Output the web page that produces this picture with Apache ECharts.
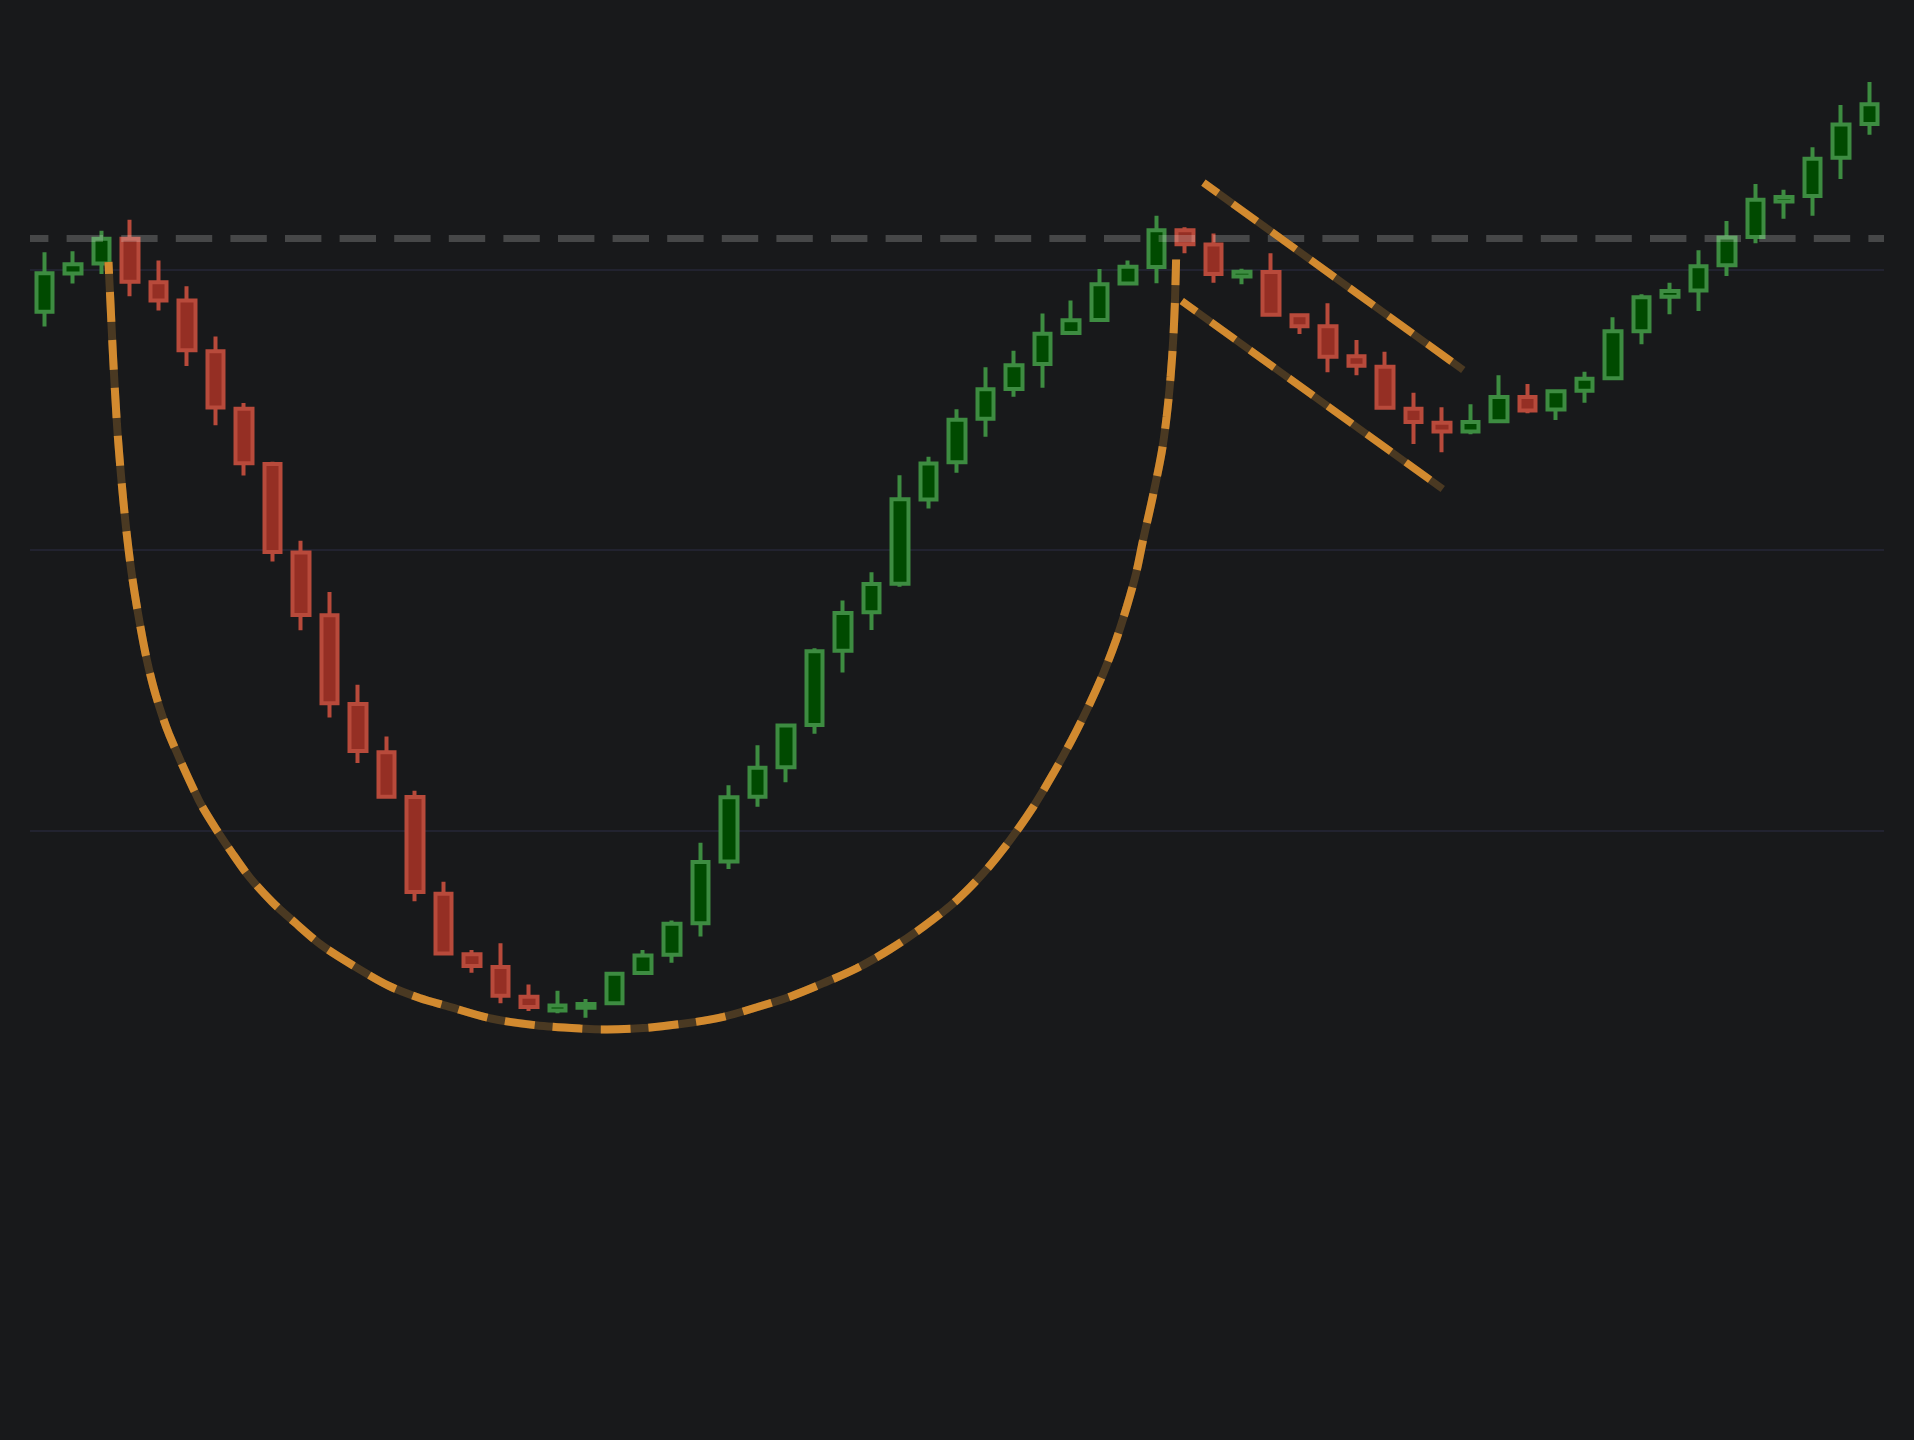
<!DOCTYPE html>
<html>
<head>
<meta charset="utf-8">
<title>Cup and handle</title>
<script src="https://cdn.jsdelivr.net/npm/echarts@6.0.0/dist/echarts.min.js"></script>
<style>
html,body{margin:0;padding:0;background:#18191b;}
#main{width:1914px;height:1440px;}
</style>
</head>
<body>
<div id="main"></div>
<script>
// sessions (labels are not shown on the chart)
var days=['1','2','3','4','5','6','7','8','9','10','11','12','13','14','15','16','17','18','19','20',
'21','22','23','24','25','26','27','28','29','30','31','32','33','34','35','36','37','38','39','40',
'41','42','43','44','45','46','47','48','49','50','51','52','53','54','55','56','57','58','59','60',
'61','62','63','64','65'];

var opens=[98.49,99.85,100.21,101.09,99.54,98.89,97.08,95.03,93.06,89.90,87.67,84.50,82.78,81.19,77.74,75.58,75.13,74.07,73.58,73.67,
73.83,74.91,75.56,76.69,78.89,81.20,82.25,83.75,86.40,87.77,88.79,91.79,93.12,94.67,95.73,96.62,97.73,98.19,99.49,100.08,
101.39,100.88,99.74,99.90,98.36,97.97,96.90,96.53,95.03,94.53,94.22,94.58,95.45,95.00,95.67,96.12,97.79,99.02,99.24,100.14,
101.15,102.42,102.61,103.98,105.18];
var closes=[99.86,100.18,101.09,99.56,98.89,97.11,95.07,93.09,89.92,87.68,84.53,82.83,81.20,77.80,75.61,75.16,74.10,73.70,73.75,73.81,
74.89,75.54,76.67,78.87,81.18,82.23,83.74,86.38,87.75,88.78,91.80,93.08,94.64,95.72,96.58,97.70,98.18,99.47,100.09,101.39,
100.89,99.83,99.91,98.38,97.97,96.88,96.56,95.06,94.56,94.22,94.56,95.45,94.97,95.65,96.10,97.79,99.00,99.23,100.11,101.13,
102.48,102.58,103.94,105.16,105.88];
var lows=[97.96,99.49,99.83,99.04,98.53,96.55,94.44,92.65,89.58,87.13,84.02,82.40,81.15,77.47,75.55,74.92,73.83,73.56,73.48,73.32,
73.83,74.91,75.28,76.21,78.62,80.84,81.71,83.44,85.63,87.14,88.68,91.47,92.75,94.03,95.46,95.78,97.66,98.12,99.43,99.50,
100.57,99.52,99.47,98.33,97.69,96.33,96.22,94.99,93.77,93.48,94.12,94.52,94.87,94.63,95.24,96.05,97.33,98.40,98.51,99.76,
100.93,101.80,101.91,103.22,104.80];
var highs=[100.61,100.64,101.37,101.77,100.31,99.40,97.60,95.23,93.14,90.32,88.50,85.19,83.34,81.41,78.17,75.73,75.97,74.50,74.28,73.99,
74.89,75.73,76.78,79.56,81.61,83.03,83.74,86.49,88.19,89.20,92.66,93.32,95.01,96.51,97.10,98.42,98.89,100.01,100.31,101.91,
101.50,101.28,100.02,100.57,98.43,98.79,97.48,97.06,95.60,95.08,95.19,96.22,95.91,95.72,96.35,98.29,99.11,99.52,100.68,101.72,
103.04,102.84,104.35,105.86,106.68];

// rim / resistance level
var resistance=101.1;

// cup outline, x in session index units
var cupX=[2.251,2.321,2.409,2.549,2.689,2.865,3.057,3.285,3.583,3.917,4.372,5.414,5.961,6.585,7.212,7.994,8.776,9.716,10.813,12.065,
13.159,14.099,15.663,17.230,18.797,19.730,21.143,22.710,23.808,24.979,26.146,27.314,28.485,29.653,30.820,31.992,32.924,33.860,34.677,35.379,
36.024,36.606,37.132,37.577,37.952,38.278,38.524,38.839,39.172,39.348,39.488,39.586,39.646,39.681];
var cupY=[100.26,98.80,96.94,94.48,92.67,90.81,89.21,87.75,86.14,84.79,83.43,81.08,80.14,79.19,78.31,77.44,76.72,75.91,75.19,74.46,
74.02,73.74,73.29,73.05,72.93,72.90,72.96,73.15,73.35,73.69,74.07,74.55,75.08,75.76,76.56,77.51,78.47,79.65,80.84,82.03,
83.22,84.41,85.60,86.78,87.97,89.16,90.35,91.78,93.45,94.73,96.16,97.59,99.01,100.35];

// handle channel
var handleTopX=[40.64,49.75];
var handleTopY=[103.09,96.41];
var handleBotX=[39.88,49.03];
var handleBotY=[98.87,92.17];

function pairs(xs,ys){
	var out=[];
	for(var i=0;i<xs.length;i++){
		out.push([xs[i],ys[i]]);
	}
	return out;
}

function draw(){
	var candles=[];
	for(var i=0;i<days.length;i++){
		candles.push([opens[i],closes[i],lows[i],highs[i]]);
	}
	var orange='#d28a2f';
	var brown='#4a3922';

	var myChart=echarts.init(document.getElementById('main'));
	var option={
		backgroundColor:'#18191b',
		animation:false,
		grid:{left:30,right:30,top:44.9,bottom:329.2},
		xAxis:[
			{type:'category',data:days,show:false,boundaryGap:true},
			{type:'value',min:-0.5,max:64.5,show:false,splitLine:{show:false}}
		],
		yAxis:{
			type:'value',min:70,max:108,interval:10,scale:true,
			axisLine:{show:false},axisTick:{show:false},axisLabel:{show:false},
			splitLine:{show:true,showMinLine:false,showMaxLine:false,lineStyle:{color:'#222330',width:2}}
		},
		series:[
			{
				type:'candlestick',
				data:candles,
				barWidth:17,
				z:2,
				itemStyle:{
					color:'#004a00',color0:'#952f24',
					borderColor:'#3d8c41',borderColor0:'#b84a3b',
					borderWidth:4
				}
			},
			{
				type:'line',xAxisIndex:1,z:3,
				data:[[-0.5,resistance],[64.5,resistance]],
				showSymbol:false,silent:true,
				lineStyle:{color:'rgba(255,255,255,0.2)',width:7,type:[36.4,18.2],dashOffset:18}
			},
			// cup: dark solid under, orange dashes on top
			{
				type:'line',xAxisIndex:1,z:4,smooth:0.3,
				data:pairs(cupX,cupY),showSymbol:false,silent:true,
				lineStyle:{color:brown,width:8}
			},
			{
				type:'line',xAxisIndex:1,z:5,smooth:0.3,
				data:pairs(cupX,cupY),showSymbol:false,silent:true,
				lineStyle:{color:orange,width:8,type:[30,18],dashOffset:18}
			},
			{
				type:'line',xAxisIndex:1,z:4,
				data:pairs(handleTopX,handleTopY),showSymbol:false,silent:true,
				lineStyle:{color:brown,width:7.5}
			},
			{
				type:'line',xAxisIndex:1,z:5,
				data:pairs(handleTopX,handleTopY),showSymbol:false,silent:true,
				lineStyle:{color:orange,width:7.5,type:[30,18],dashOffset:12}
			},
			{
				type:'line',xAxisIndex:1,z:4,
				data:pairs(handleBotX,handleBotY),showSymbol:false,silent:true,
				lineStyle:{color:brown,width:7.5}
			},
			{
				type:'line',xAxisIndex:1,z:5,
				data:pairs(handleBotX,handleBotY),showSymbol:false,silent:true,
				lineStyle:{color:orange,width:7.5,type:[30,18],dashOffset:12}
			}
		]
	};
	myChart.setOption(option);
}
draw();
</script>
</body>
</html>
